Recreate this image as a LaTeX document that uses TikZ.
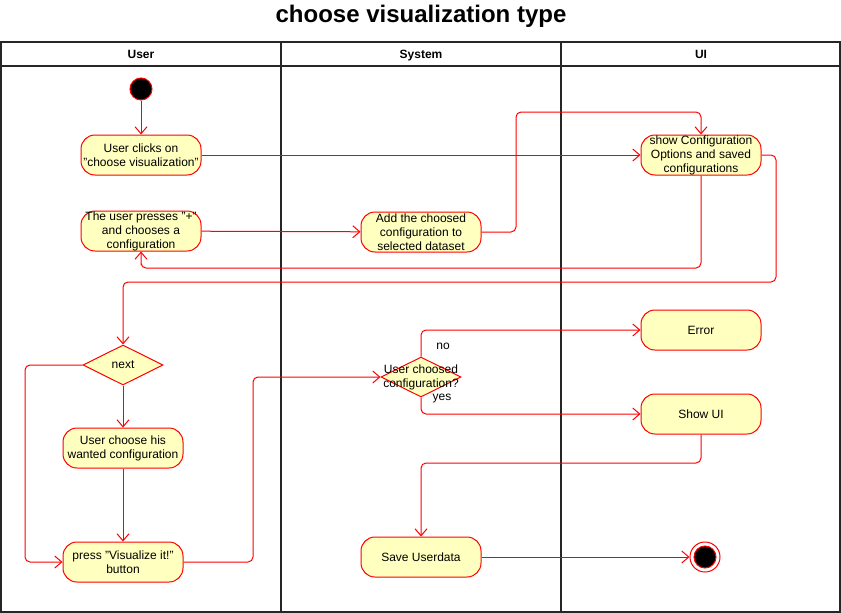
\documentclass[tikz,border=0pt]{standalone}
\usepackage{fontspec}
\setmainfont{Liberation Sans}
\usetikzlibrary{shapes.geometric,arrows.meta}
\definecolor{actfill}{HTML}{FFFFC0}
\definecolor{actline}{HTML}{FF0000}
\begin{document}
\begin{tikzpicture}[x=1pt,y=-1pt,font=\fontsize{12}{14}\selectfont,
	act/.style={draw=actline,fill=actfill,line width=1pt,rounded corners=14pt,minimum width=120pt,minimum height=40pt,inner sep=0pt,align=center},
	dec/.style={draw=actline,fill=actfill,line width=1pt,diamond,minimum width=80pt,minimum height=40pt,inner sep=0pt,align=center},
	flow/.style={color=actline,line width=1pt,rounded corners=5pt,-{Straight Barb[length=7pt,width=12pt]}},
	lane/.style={draw=black!85,line width=1.2pt}]
			\useasboundingbox (0,0) rectangle (841,613);
			\node (title) at (421,16) {\fontsize{24}{28}\selectfont\bfseries choose visualization type};

			\draw[lane] (1,42) rectangle (840,612);
			\draw[lane] (1,66) -- (840,66);
			\draw[lane] (281,42) -- (281,612);
			\draw[lane] (561,42) -- (561,612);
			\node (huser)[anchor=base] at (141,58) {\bfseries User};
			\node (hsys)[anchor=base] at (421,58) {\bfseries System};
			\node (hui)[anchor=base] at (701,58) {\bfseries UI};

			\node (start)[circle,draw=actline,line width=1pt,fill=black,minimum size=22pt,inner sep=0pt] at (141,89) {};
			\node (clicks)[act] at (141,155) {User clicks on\\"choose visualization"};
			\node (presses)[act] at (141,231) {The user presses "+"\\and chooses a\\configuration};
			\node (addconf)[act] at (421,232) {Add the choosed\\configuration to\\selected dataset};
			\node (showconf)[act] at (701,155) {show Configuration\\Options and saved\\configurations};
			\node (next)[dec] at (123,365) {next};
			\node (wanted)[act] at (123,448) {User choose his\\wanted configuration};
			\node (press)[act] at (123,562) {press "Visualize it!"\\button};
			\node (choosed)[dec,label={[align=center]center:User choosed\\configuration?}] at (421,377) {};
			\node (no) at (443,346) {no};
			\node (yes) at (442,399) {yes};
			\node (error)[act] at (701,330) {Error};
			\node (showui)[act] at (701,414) {Show UI};
			\node (save)[act] at (421,557) {Save Userdata};
			\node (stop)[circle,draw=actline,line width=1pt,fill=white,minimum size=30pt,inner sep=0pt] at (705,557) {};
			\node (stopin)[circle,draw=actline,line width=1pt,fill=black,minimum size=22pt,inner sep=0pt] at (705,557) {};

			\draw[flow] (start)--(clicks);
			\draw[flow] (clicks)--(showconf);
			\draw[flow] (presses)--(addconf);
			\draw[flow] (addconf.east) -| (516,112) -| (showconf.north);
			\draw[flow] (showconf.south) |- (141,268) -| (presses.south);
			\draw[flow] (showconf.east) -| (776,282) -| (next.north);
			\draw[flow] (next)--(wanted);
			\draw[flow] (wanted)--(press);
			\draw[flow] (next.west) -| (25,562) -- (press.west);
			\draw[flow] (press.east) -| (253,377) -- (choosed.west);
			\draw[flow] (choosed.north) |- (error.west);
			\draw[flow] (choosed.south) |- (showui.west);
			\draw[flow] (showui.south) |- (421,463) -- (save.north);
			\draw[flow] (save)--(stop);
		\end{tikzpicture}
\end{document}
